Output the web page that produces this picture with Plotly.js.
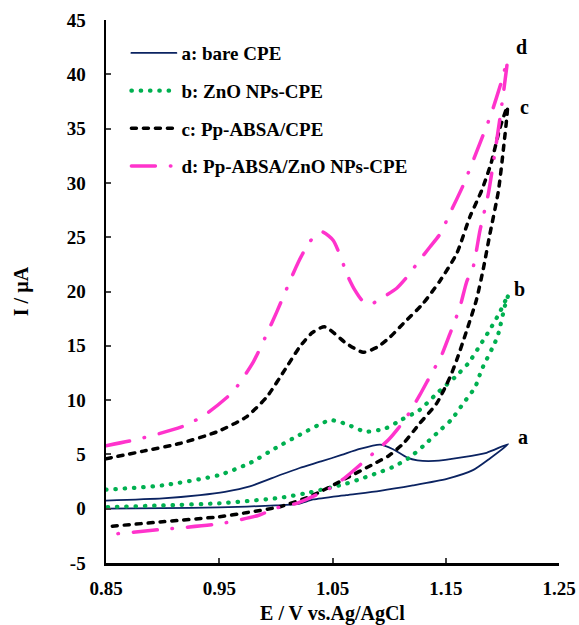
<!DOCTYPE html>
<html>
<head>
<meta charset="utf-8">
<script src="https://cdn.plot.ly/plotly-3.0.1.min.js"></script>
<style>
  html, body { margin: 0; padding: 0; background: #fff; }
  #chart { width: 579px; height: 625px; }
  .js-line { stroke-linecap: round; stroke-linejoin: round; }
</style>
</head>
<body>
<div id="chart"></div>
<script>
// Potential (V vs Ag/AgCl) and current (µA) for each CV loop: forward scan then return scan
const aE = [0.85,0.90,0.933,0.955,0.977,1.0036,1.021,1.04,1.058,1.074,1.092,1.103,1.116,1.125,1.14,1.1655,1.186,1.2052,
            1.189,1.174,1.151,1.121,1.092,1.062,1.033,1.02,1.0,0.95,0.90,0.85];
const aI = [0.75,0.95,1.25,1.55,2.05,3.1,3.75,4.35,4.95,5.5,5.9,5.5,4.7,4.45,4.4,4.75,5.15,5.95,
            4.63,3.55,2.75,2.15,1.65,1.25,0.85,0.45,0.3,0.12,0.05,0.0];

const bE = [0.85,0.90,0.95,0.977,1.0,1.021,1.048,1.062,1.079,1.097,1.111,1.127,1.142,1.158,1.170,1.180,1.189,1.1973,1.2052,
            1.2023,1.1964,1.1935,1.1817,1.176,1.1655,1.155,1.1435,1.130,1.117,1.1025,1.09,1.075,1.062,1.05,1.03,1.0036,0.95,0.90,0.85];
const bI = [1.75,2.15,3.1,4.2,5.6,6.8,8.15,7.8,7.1,7.4,8.2,9.1,10.6,12.1,13.4,15.0,16.5,18.0,19.7,
            18.7,16.1,15.3,12.8,11.2,9.7,8.2,7.08,5.76,4.63,3.8,3.3,2.75,2.3,2.0,1.5,1.0,0.5,0.3,0.15];

const cE = [0.85,0.883,0.915,0.948,0.974,0.992,1.0096,1.021,1.032,1.043,1.0625,1.077,1.09,1.1008,1.1125,1.130,1.145,1.1597,1.1714,1.1817,1.190,1.198,1.2044,
            1.2008,1.1964,1.189,1.183,1.177,1.1685,1.1597,1.1537,1.142,1.127,1.1125,1.1,1.086,1.062,1.033,1.0036,0.975,0.95,0.90,0.85];
const cI = [4.6,5.3,6.0,7.08,8.46,10.3,13.06,14.9,16.2,16.75,15.2,14.4,14.9,15.8,17.05,18.9,21.0,23.5,26.9,29.3,31.8,35.1,37.0,
            33.0,29.2,25.3,22.0,19.2,16.4,13.7,12.1,9.7,7.85,6.0,4.9,4.1,2.8,1.25,0.18,-0.35,-0.74,-1.2,-1.66];

const dE = [0.85,0.874,0.8977,0.921,0.939,0.962,0.980,0.992,1.0007,1.0198,1.03,1.0405,1.0507,1.064,1.0699,1.076,1.083,1.092,1.1067,1.1155,1.127,1.136,1.145,1.1537,1.1655,1.183,1.1906,1.1994,1.2044,
            1.2008,1.195,1.1876,1.1802,1.1743,1.1685,1.1626,1.1537,1.145,1.139,1.127,1.1155,1.108,1.099,1.086,1.062,1.048,1.019,1.0,0.985,0.95,0.90,0.85];
const dI = [5.8,6.3,6.93,7.7,8.77,10.76,13.5,16.1,18.1,22.7,24.6,25.5,24.7,21.3,20.1,19.2,18.8,19.3,20.3,21.3,22.9,24.1,25.3,27.2,29.8,34.4,36.5,39.4,41.3,
            38.2,33.9,29.0,25.6,22.3,20.9,18.6,16.1,13.8,12.75,10.45,8.46,7.4,6.3,5.1,2.94,1.9,0.52,0.05,-0.6,-1.4,-1.9,-2.4];

const names = ['a: bare CPE','b: ZnO NPs-CPE','c: Pp-ABSA/CPE','d: Pp-ABSA/ZnO NPs-CPE'];
const tags = ['a','b','c','d'];
const xTicks = [0.85,0.95,1.05,1.15,1.25];
const xTickText = ['0.85','0.95','1.05','1.15','1.25'];
const yTicks = [-5,0,5,10,15,20,25,30,35,40,45];
const yTickText = ['-5','0','5','10','15','20','25','30','35','40','45'];

const FONT = 'Liberation Serif, Times New Roman, serif';
const series = [[aE,aI],[bE,bI],[cE,cI],[dE,dI]];
const lines = [
  {color:'#0B2361', width:1.8, dash:'solid'},
  {color:'#00B050', width:4.2, dash:'0.5px,8.8px'},
  {color:'#000000', width:3.5, dash:'5px,7px'},
  {color:'#FF33CC', width:3.5, dash:'24px,15px,0.5px,15px'}
];

const traces = series.map((s,i) => ({
  x: s[0], y: s[1], type:'scatter', mode:'lines', name: names[i],
  legendgroup: 'g'+i,
  line: Object.assign({shape:'spline', smoothing:0.6}, lines[i]),
  hoverinfo:'skip'
}));

const shifts = [[15,7],[11,6],[17,0],[14,13]];
const annotations = series.map((s,i) => {
  let k = 0;
  s[0].forEach((v,j) => { if (v > s[0][k]) k = j; });
  return {x: s[0][k], y: s[1][k], xref:'x', yref:'y', text: tags[i], showarrow:false,
          xshift: shifts[i][0], yshift: shifts[i][1],
          font:{family:FONT, size:20, color:'#000', weight:'bold'}};
});

const layout = {
  width:579, height:625,
  margin:{l:106, r:20, t:19.5, b:62, pad:0},
  paper_bgcolor:'#fff', plot_bgcolor:'#fff',
  showlegend:true,
  legend:{x:0.045, y:0.974, xanchor:'left', yanchor:'top', bgcolor:'rgba(0,0,0,0)',
          font:{family:FONT, size:19, color:'#000', weight:'bold'}, tracegroupgap:10, itemwidth:45},
  xaxis:{range:[0.85,1.25], tickvals:xTicks, ticktext:xTickText, ticks:'inside', ticklen:5, tickwidth:2,
         showline:true, linewidth:2.5, linecolor:'#000', showgrid:false, zeroline:false,
         ticklabelstandoff:7,
         tickfont:{family:FONT, size:19, color:'#000', weight:'bold'},
         title:{text:'E / V vs.Ag/AgCl', standoff:9, font:{family:FONT, size:20, color:'#000', weight:'bold'}}},
  yaxis:{range:[-5,45], tickvals:yTicks, ticktext:yTickText, ticks:'inside', ticklen:5, tickwidth:2,
         showline:true, linewidth:2.5, linecolor:'#000', showgrid:false, zeroline:false,
         ticklabelstandoff:14,
         tickfont:{family:FONT, size:19, color:'#000', weight:'bold'},
         title:{text:'I / µA', standoff:33, font:{family:FONT, size:20, color:'#000', weight:'bold'}}},
  annotations: annotations
};

Plotly.newPlot('chart', traces, layout, {displayModeBar:false, staticPlot:true});
</script>
</body>
</html>
